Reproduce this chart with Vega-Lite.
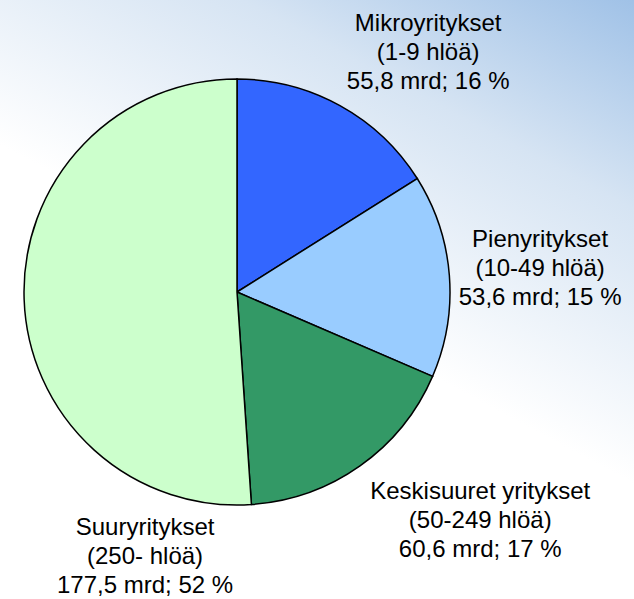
{
  "$schema": "https://vega.github.io/schema/vega-lite/v6.json",
  "width": 794,
  "height": 614,
  "autosize": {"type": "none"},
  "padding": {"left": -160, "top": -15, "right": 0, "bottom": 0},
  "background": "#ffffff",
  "view": {
    "stroke": null,
    "fill": {
      "gradient": "linear",
      "x1": 1, "y1": 0, "x2": 0.62, "y2": 0.55,
      "stops": [
        {"offset": 0, "color": "#9cbfe6"},
        {"offset": 0.45, "color": "#d6e4f3"},
        {"offset": 1, "color": "#ffffff"}
      ]
    }
  },
  "config": {
    "view": {"stroke": null},
    "text": {"font": "Liberation Sans", "fontSize": 24, "lineHeight": 29, "color": "#000000"}
  },
  "data": {
    "values": [
      {"cat": "Mikro", "order": 1, "value": 55.8, "label": ["Mikroyritykset", "(1-9 hlöä)", "55,8 mrd; 16 %"]},
      {"cat": "Pieny", "order": 2, "value": 53.6, "label": ["Pienyritykset", "(10-49 hlöä)", "53,6 mrd; 15 %"]},
      {"cat": "Kesk", "order": 3, "value": 60.6, "label": ["Keskisuuret yritykset", "(50-249 hlöä)", "60,6 mrd; 17 %"]},
      {"cat": "Suury", "order": 4, "value": 177.5, "label": ["Suuryritykset", "(250- hlöä)", "177,5 mrd; 52 %"]}
    ]
  },
  "encoding": {
    "theta": {"field": "value", "type": "quantitative", "stack": true},
    "order": {"field": "order", "type": "quantitative"}
  },
  "layer": [
    {
      "mark": {"type": "arc", "outerRadius": 213, "stroke": "#000000", "strokeWidth": 1.5},
      "encoding": {
        "color": {
          "field": "cat", "type": "nominal", "legend": null,
          "scale": {"domain": ["Mikro", "Pieny", "Kesk", "Suury"], "range": ["#3366ff", "#99ccff", "#339966", "#ccffcc"]}
        }
      }
    },
    {
      "mark": {"type": "text", "radius": 290, "dx": 51, "dy": -14, "align": "center", "baseline": "middle"},
      "encoding": {"text": {"condition": {"test": "datum.cat === 'Mikro'", "field": "label"}, "value": ""}}
    },
    {
      "mark": {"type": "text", "radius": 300, "dx": 4, "dy": -29, "align": "center", "baseline": "middle"},
      "encoding": {"text": {"condition": {"test": "datum.cat === 'Pieny'", "field": "label"}, "value": ""}}
    },
    {
      "mark": {"type": "text", "radius": 300, "dx": 70, "dy": -45, "align": "center", "baseline": "middle"},
      "encoding": {"text": {"condition": {"test": "datum.cat === 'Kesk'", "field": "label"}, "value": ""}}
    },
    {
      "mark": {"type": "text", "radius": 100, "dx": 8, "dy": 233, "align": "center", "baseline": "middle"},
      "encoding": {"text": {"condition": {"test": "datum.cat === 'Suury'", "field": "label"}, "value": ""}}
    }
  ]
}
